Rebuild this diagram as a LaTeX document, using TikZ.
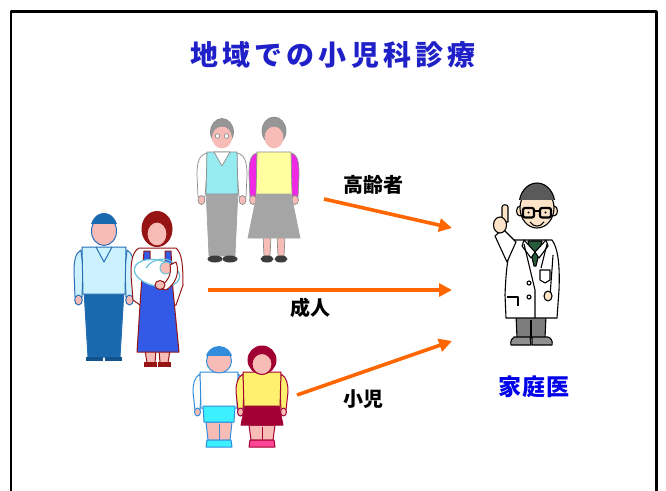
\documentclass[tikz,border=0pt]{standalone}
\usepackage{fontspec}
\setmainfont{Noto Sans CJK JP}
\usetikzlibrary{arrows.meta}

\definecolor{titleblue}{RGB}{32,32,200}
\definecolor{docblue}{RGB}{0,0,235}
\definecolor{arroworange}{RGB}{255,102,0}
\definecolor{skin}{RGB}{247,188,182}
\definecolor{greyline}{RGB}{140,140,140}
\definecolor{greyhair}{RGB}{150,150,150}
\definecolor{vestcyan}{RGB}{150,235,240}
\definecolor{trousergrey}{RGB}{165,165,165}
\definecolor{grandmayellow}{RGB}{255,255,160}
\definecolor{grandmamagenta}{RGB}{240,40,230}
\definecolor{shoedark}{RGB}{60,60,60}
\definecolor{dadblue}{RGB}{25,105,175}
\definecolor{dadshirt}{RGB}{205,242,255}
\definecolor{dadline}{RGB}{40,110,180}
\definecolor{momred}{RGB}{150,20,20}
\definecolor{momdress}{RGB}{50,90,230}
\definecolor{babyline}{RGB}{110,195,220}
\definecolor{boyblue}{RGB}{50,140,220}
\definecolor{boycyan}{RGB}{60,240,255}
\definecolor{girlred}{RGB}{160,0,50}
\definecolor{girlyellow}{RGB}{255,240,110}
\definecolor{girlpink}{RGB}{255,70,150}
\definecolor{docskin}{RGB}{253,228,200}
\definecolor{dochair}{RGB}{90,90,90}
\definecolor{doctie}{RGB}{40,90,60}
\definecolor{docgrey}{RGB}{125,125,125}

\begin{document}
\begin{tikzpicture}[x=1pt,y=-1pt,line join=round,
  flow/.style={draw=arroworange,line width=3.6pt,line cap=butt,
    -{Triangle[length=13pt,width=13pt]}},
  tag/.style={font=\fontsize{20}{20}\selectfont\bfseries,text=black,inner sep=0pt},
  heading/.style={font=\fontsize{28}{28}\selectfont\bfseries\addfontfeature{LetterSpace=15},inner sep=0pt},
  thin/.style={line width=0.7pt},
  ink/.style={line width=1.1pt,draw=black}]

\useasboundingbox (0,0) rectangle (666,490);
\fill[white] (0,0) rectangle (666,490);

% slide frame (open at the bottom)
\draw[line width=2.6pt] (10.8,500) -- (10.8,11.3) -- (656.5,11.3) -- (656.5,500);

% heading
\node[heading,text=titleblue] (title) at (333,55) {地域での小児科診療};

% ---------------- grandfather ----------------
\begin{scope}[thin,draw=greyline]
  \filldraw[fill=white] (207,153) .. controls (199,155) and (197,162) .. (197,175) -- (198,197) -- (205,197) -- (207,170) -- cycle;
  \filldraw[fill=white] (237,153) .. controls (245,155) and (247,162) .. (247,175) -- (246,197) -- (239,197) -- (237,170) -- cycle;
  \filldraw[fill=skin] (201.5,200) ellipse [x radius=3.5,y radius=4.5];
  \filldraw[fill=skin] (242.5,200) ellipse [x radius=3.5,y radius=4.5];
  \filldraw[fill=trousergrey,draw=trousergrey] (206,190) -- (238,190) -- (235,256) -- (209,256) -- cycle;
  \filldraw[fill=vestcyan] (207,152) -- (237,152) -- (238,194) -- (206,194) -- cycle;
  \filldraw[fill=white] (214,152) -- (222,166) -- (230,152) -- cycle;
  \fill[shoedark] (215,259) ellipse [x radius=7.5,y radius=3.5];
  \fill[shoedark] (230,259) ellipse [x radius=7.5,y radius=3.5];
  \filldraw[fill=greyhair] (222,132) ellipse [x radius=11.5,y radius=13.5];
  \filldraw[fill=skin,draw=skin] (222,137.5) ellipse [x radius=9.5,y radius=10.5];
  \filldraw[fill=white] (217.5,136) circle [radius=2.3];
  \filldraw[fill=white] (226.5,136) circle [radius=2.3];
\end{scope}

% ---------------- grandmother ----------------
\begin{scope}[thin,draw=greyline]
  \filldraw[fill=grandmamagenta] (257,153) .. controls (250,155) and (249,162) .. (249,175) -- (250,197) -- (256,197) -- (257,170) -- cycle;
  \filldraw[fill=grandmamagenta] (291,153) .. controls (298,155) and (299,162) .. (299,175) -- (298,197) -- (292,197) -- (291,170) -- cycle;
  \filldraw[fill=skin] (253,200) ellipse [x radius=3.5,y radius=4.5];
  \filldraw[fill=skin] (295,200) ellipse [x radius=3.5,y radius=4.5];
  \filldraw[fill=skin] (263,236) -- (271,236) -- (270,256) -- (264,256) -- cycle;
  \filldraw[fill=skin] (277,236) -- (285,236) -- (284,256) -- (278,256) -- cycle;
  \fill[shoedark] (267,259) ellipse [x radius=6.5,y radius=3.5];
  \fill[shoedark] (281,259) ellipse [x radius=6.5,y radius=3.5];
  \filldraw[fill=grandmayellow] (257,152) -- (291,152) -- (292,196) -- (256,196) -- cycle;
  \filldraw[fill=trousergrey,draw=trousergrey] (257,194) -- (291,194) -- (300,238) -- (248,238) -- cycle;
  \filldraw[fill=greyhair] (274,131) ellipse [x radius=12,y radius=14];
  \filldraw[fill=skin,draw=skin] (274,137.5) ellipse [x radius=9,y radius=10.5];
\end{scope}

% ---------------- father ----------------
\begin{scope}[thin,draw=dadline,line width=1pt]
  \filldraw[fill=dadshirt] (81,250) .. controls (75,253) and (74,262) .. (74,272) -- (75,297) -- (82,297) -- (83,268) -- cycle;
  \filldraw[fill=dadshirt] (127,250) .. controls (133,253) and (134,262) .. (134,272) -- (133,297) -- (126,297) -- (125,268) -- cycle;
  \filldraw[fill=skin] (78.5,300) ellipse [x radius=3.8,y radius=5];
  \filldraw[fill=skin] (129.5,300) ellipse [x radius=3.8,y radius=5];
  \filldraw[fill=dadblue] (84,290) -- (124,290) -- (120,357) -- (88,357) -- cycle;
  \fill[dadblue!80!black] (86,357) rectangle (103,361);
  \fill[dadblue!80!black] (105,357) rectangle (122,361);
  \filldraw[fill=dadshirt] (82,247) -- (126,247) -- (125,294) -- (83,294) -- cycle;
  \draw (96,247) -- (104,262) -- (112,247);
  \filldraw[fill=skin] (104,231) ellipse [x radius=12.5,y radius=14.5];
  \begin{scope}
    \clip (80,205) rectangle (128,223);
    \filldraw[fill=dadblue] (104,229.5) ellipse [x radius=13.2,y radius=16];
  \end{scope}
\end{scope}

% ---------------- mother and baby ----------------
\begin{scope}[line width=1pt,draw=momred]
  \filldraw[fill=skin] (145,350) -- (156,350) -- (155,363) -- (147,363) -- cycle;
  \filldraw[fill=skin] (159,350) -- (170,350) -- (168,363) -- (160,363) -- cycle;
  \fill[momred] (144,362) rectangle (157,367);
  \fill[momred] (158,362) rectangle (171,367);
  \filldraw[fill=white] (139,248) .. controls (132,252) and (131,262) .. (131,275) -- (133,300) -- (140,305) -- (176,305) -- (183,285) .. controls (183,265) and (182,253) .. (176,248) -- cycle;
  \filldraw[fill=momdress] (144,251) -- (150,251) -- (150,262) -- (165,262) -- (165,251) -- (171,251) -- (173,290) -- (179,352) -- (137,352) -- (141,290) -- cycle;
  \filldraw[fill=momred] (157,229) ellipse [x radius=15,y radius=17.5];
  \filldraw[fill=skin] (157,234) ellipse [x radius=10,y radius=12];
  % baby bundle
  \filldraw[fill=white,draw=babyline,line width=1.3pt,rotate around={-12:(157,273)}] (157,273) ellipse [x radius=23,y radius=13];
  \draw[draw=babyline,line width=1.2pt] (146,268) .. controls (152,258) and (168,256) .. (174,264);
  \filldraw[fill=skin,draw=babyline] (166,268) circle [radius=6];
  % mother's arm across the bundle
  \filldraw[fill=white] (176,262) .. controls (180,272) and (176,284) .. (166,290) -- (158,288) .. controls (168,282) and (172,274) .. (170,265) -- cycle;
  \filldraw[fill=skin] (160,285) ellipse [x radius=5,y radius=4.5];
\end{scope}

% ---------------- boy ----------------
\begin{scope}[line width=1pt,draw=boyblue]
  \filldraw[fill=white] (200,374) .. controls (194,377) and (193,385) .. (193,392) -- (195,410) -- (200,410) -- (201,390) -- cycle;
  \filldraw[fill=white] (238,374) .. controls (244,377) and (245,385) .. (245,392) -- (243,410) -- (238,410) -- (237,390) -- cycle;
  \filldraw[fill=skin] (197.5,412) ellipse [x radius=3,y radius=4];
  \filldraw[fill=skin] (240.5,412) ellipse [x radius=3,y radius=4];
  \filldraw[fill=skin] (206,422) -- (232,422) -- (230,440) -- (208,440) -- cycle;
  \draw (219,424) -- (219,440);
  \filldraw[fill=boycyan] (207,440) -- (231,440) -- (232,447) -- (206,447) -- cycle;
  \filldraw[fill=white] (200,372) -- (238,372) -- (237,408) -- (201,408) -- cycle;
  \filldraw[fill=boycyan] (203,406) -- (235,406) -- (234,422) -- (204,422) -- cycle;
  \filldraw[fill=skin] (219,361) ellipse [x radius=12.5,y radius=12];
  \begin{scope}
    \clip (200,340) rectangle (240,355);
    \filldraw[fill=boyblue] (219,359.5) ellipse [x radius=13,y radius=13];
  \end{scope}
\end{scope}

% ---------------- girl ----------------
\begin{scope}[line width=1pt,draw=girlred]
  \filldraw[fill=girlyellow] (243,374) .. controls (237,377) and (236,385) .. (236,392) -- (238,410) -- (243,410) -- (244,390) -- cycle;
  \filldraw[fill=girlyellow] (281,374) .. controls (287,377) and (288,385) .. (288,392) -- (286,410) -- (281,410) -- (280,390) -- cycle;
  \filldraw[fill=skin] (240.5,412) ellipse [x radius=3,y radius=4];
  \filldraw[fill=skin] (283.5,412) ellipse [x radius=3,y radius=4];
  \filldraw[fill=skin] (249,425) -- (275,425) -- (273,440) -- (251,440) -- cycle;
  \draw (262,427) -- (262,440);
  \filldraw[fill=girlpink] (250,440) -- (274,440) -- (275,447) -- (249,447) -- cycle;
  \filldraw[fill=girlyellow] (243,372) -- (281,372) -- (280,408) -- (244,408) -- cycle;
  \filldraw[fill=girlred] (245,406) -- (279,406) -- (283,425) -- (241,425) -- cycle;
  \filldraw[fill=girlred] (262,360) ellipse [x radius=14,y radius=14];
  \filldraw[fill=skin] (262,364) ellipse [x radius=10,y radius=10.5];
\end{scope}

% ---------------- family doctor ----------------
\begin{scope}[ink]
  \filldraw[fill=docgrey] (516,315) -- (546,315) -- (545,338) -- (517,338) -- cycle;
  \draw (531,320) -- (531,338);
  \filldraw[fill=docgrey!85] (514,337) -- (530,337) -- (531,345) -- (511,345) .. controls (510,341) and (512,338) .. (514,337) -- cycle;
  \filldraw[fill=docgrey!85] (532,337) -- (548,337) .. controls (551,338) and (553,341) .. (552,345) -- (532,345) -- cycle;
  % white coat
  \filldraw[fill=white] (514,240) .. controls (508,250) and (506,270) .. (505,295) -- (506,318) -- (557,318) -- (559,290) .. controls (560,265) and (558,248) .. (552,240) -- cycle;
  \filldraw[fill=doctie] (528,241) -- (542,241) -- (536,266) -- (534,266) -- cycle;
  \filldraw[fill=white] (524,240) -- (535,252) -- (531,258) -- (522,246) -- cycle;
  \filldraw[fill=white] (546,240) -- (535,252) -- (539,258) -- (548,246) -- cycle;
  \draw (524,244) -- (535,290) -- (535,318);
  \draw (547,244) -- (541,268);
  \draw (553,255) .. controls (552,270) and (551,282) .. (550,296);
  \filldraw[fill=white] (540,270) -- (550,270) -- (550,280) -- (545,283) -- (540,280) -- cycle;
  \draw (507,297) -- (518,297) -- (518,306);
  \filldraw[fill=white] (529,283) circle [radius=2];
  \filldraw[fill=white] (529,297) circle [radius=2];
  \filldraw[fill=docskin] (548,296) ellipse [x radius=4,y radius=5];
  % raised arm with pointing finger
  \filldraw[fill=white] (516,242) -- (503,229) -- (495,236) -- (507,262) -- cycle;
  \filldraw[fill=docskin] (502,207) .. controls (502,204) and (508,204) .. (508,207) -- (508,222) -- (502,222) -- cycle;
  \filldraw[fill=docskin] (500,225) ellipse [x radius=6.5,y radius=8];
  % head
  \filldraw[fill=docskin] (520,211) ellipse [x radius=3.5,y radius=5];
  \filldraw[fill=docskin] (554,211) ellipse [x radius=3.5,y radius=5];
  \filldraw[fill=docskin] (537,208) ellipse [x radius=17,y radius=20];
  \begin{scope}
    \clip (515,180) rectangle (560,199);
    \filldraw[fill=dochair] (537,205) ellipse [x radius=18,y radius=22];
  \end{scope}
  \draw[line width=2.2pt,rounded corners=2pt] (523,208) rectangle (534,217.5);
  \draw[line width=2.2pt,rounded corners=2pt] (540,208) rectangle (551,217.5);
  \draw[line width=1.6pt] (534,211) -- (540,211);
  \fill (528.5,212.5) circle [radius=1.1];
  \fill (545.5,212.5) circle [radius=1.1];
  \draw (530,222) .. controls (534,227.5) and (540,227.5) .. (544,222);
\end{scope}

% ---------------- connectors ----------------
\coordinate (elderout) at (324,199);
\coordinate (adultout) at (208,290);
\coordinate (childout) at (297,395);
\coordinate (docin1) at (452,228);
\coordinate (docin2) at (452,290);
\coordinate (docin3) at (452,341);
\draw[flow] (elderout) -- (docin1);
\draw[flow] (adultout) -- (docin2);
\draw[flow] (childout) -- (docin3);

% ---------------- labels ----------------
\node[tag] (elder) at (373,185) {高齢者};
\node[tag] (adult) at (310,308) {成人};
\node[tag] (child) at (363,399) {小児};
\node[font=\fontsize{23}{23}\selectfont\bfseries\addfontfeature{LetterSpace=4},text=docblue,inner sep=0pt] (gp) at (534,386.5) {家庭医};

\end{tikzpicture}
\end{document}
